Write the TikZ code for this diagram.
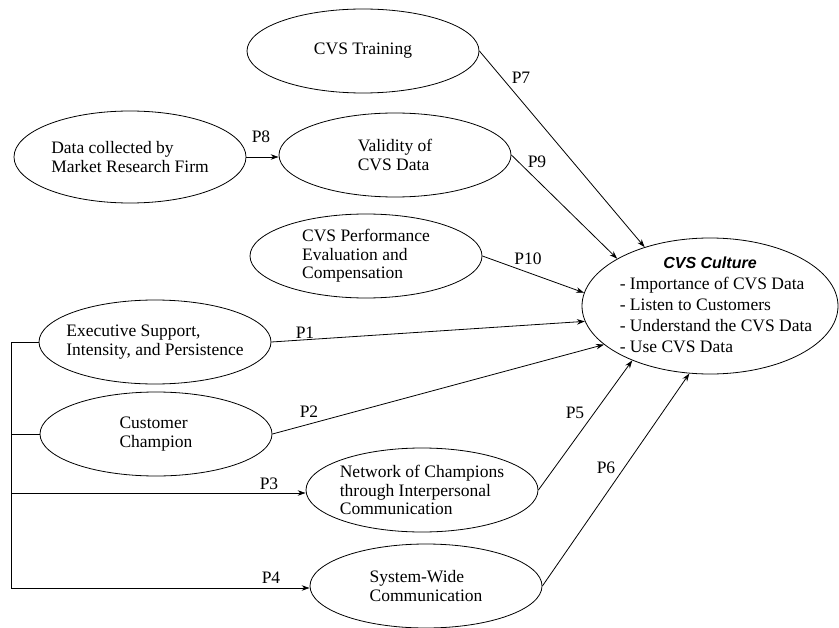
\documentclass[tikz,border=0pt]{standalone}
\usepackage{fontspec}
\setmainfont{Liberation Serif}
\newfontfamily\culturefont{Liberation Sans}
\usetikzlibrary{shapes.geometric,arrows.meta}

\tikzset{
  construct/.style={draw, ellipse, line width=0.8bp, minimum width=232bp, minimum height=84bp,
    inner xsep=-15bp, inner ysep=0pt, align=left, font=\fontsize{17.5bp}{18.5bp}\selectfont},
  link/.style={-{Stealth[length=8bp,width=5.5bp]}, line width=0.8bp},
  plabel/.style={inner sep=0pt, font=\fontsize{17.5bp}{18.5bp}\selectfont}
}

\begin{document}
\begin{tikzpicture}[x=1bp, y=-1bp]
    \useasboundingbox (0,0) rectangle (839,628);

    % Antecedenti in alto
    \node[construct] (training) at (363,51) {CVS Training};
    \node[construct, minimum height=92bp] (firm) at (130,157) {Data collected by\\Market Research Firm};
    \node[construct] (validity) at (395,155) {Validity of\\CVS Data};
    \node[construct] (evaluation) at (366,256) {CVS Performance\\Evaluation and\\Compensation};

    % Antecedenti a sinistra
    \node[construct] (executive) at (155,342) {Executive Support,\\Intensity, and Persistence};
    \node[construct] (champion) at (156,434) {Customer\\Champion};
    \node[construct] (network) at (422,490) {Network of Champions\\through Interpersonal\\Communication};
    \node[construct] (systemwide) at (426,586) {System-Wide\\Communication};

    % Cultura CVS
    \node[construct, minimum width=256bp, minimum height=136bp, inner ysep=-8bp,
          font=\fontsize{17.5bp}{21bp}\selectfont] (culture) at (710,306) {%
      \begin{tabular}{@{\hspace*{12bp}}l@{}}
        \multicolumn{1}{@{}c@{}}{\fontsize{16bp}{21bp}\culturefont\bfseries\itshape CVS Culture}\\
        - Importance of CVS Data\\
        - Listen to Customers\\
        - Understand the CVS Data\\
        - Use CVS Data
      \end{tabular}};

    % Frecce verso la cultura
    \draw[link] (training.east) -- (culture.138);
    \draw[link] (validity.east) -- (culture.153);
    \draw[link] (evaluation.east) -- (culture.174);
    \draw[link] (executive.east) -- (culture.187);
    \draw[link] (champion.east) -- (culture.200);
    \draw[link] (network.east) -- (culture.215);
    \draw[link] (systemwide.east) -- (culture.253);
    \draw[link] (firm.east) -- (firm.east -| validity.west);

    % Linea di raccordo a sinistra
    \coordinate (trunk) at (11,588);
    \coordinate (branch) at (11,493);
    \draw[line width=0.8bp] (executive.west) -- (executive.west -| trunk) -- (trunk);
    \draw[line width=0.8bp] (champion.west) -- (champion.west -| trunk);
    \draw[link] (branch) -- (branch -| network.west);
    \draw[link] (trunk) -- (trunk -| systemwide.west);

    % Etichette delle proposizioni
    \node[plabel] (p7) at (521,78) {P7};
    \node[plabel] (p8) at (261,137) {P8};
    \node[plabel] (p9) at (537,162) {P9};
    \node[plabel] (p10) at (528,259) {P10};
    \node[plabel] (p1) at (305,333) {P1};
    \node[plabel] (p2) at (309,412) {P2};
    \node[plabel] (p3) at (269,484) {P3};
    \node[plabel] (p4) at (271,578) {P4};
    \node[plabel] (p5) at (575,413) {P5};
    \node[plabel] (p6) at (606,468) {P6};
\end{tikzpicture}
\end{document}
